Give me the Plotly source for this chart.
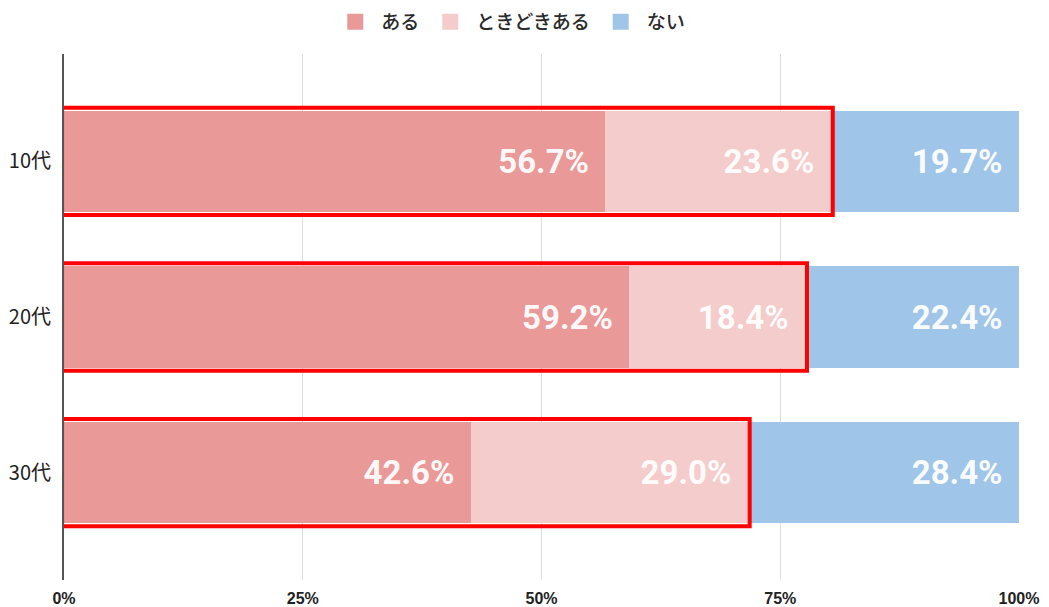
import plotly.graph_objects as go

categories = ["10代", "20代", "30代"]
series_names = ["ある", "ときどきある", "ない"]
aru = [56.7, 59.2, 42.6]
tokidoki = [23.6, 18.4, 29.0]
nai = [19.7, 22.4, 28.4]
x_ticks = [0, 25, 50, 75, 100]
x_tick_labels = ["0%", "25%", "50%", "75%", "100%"]

colors = ["#EA9999", "#F4CCCC", "#9FC5E8"]
series_values = [aru, tokidoki, nai]

fig = go.Figure()
for k, (name, vals, col) in enumerate(zip(series_names, series_values, colors)):
    fig.add_trace(go.Bar(
        y=categories, x=vals, name=name, orientation="h",
        marker=dict(color=col, line=dict(width=0),
                    cornerradius=3 if k == len(series_names) - 1 else 0),
        text=[f"{v:.1f}%\u2009\u2009" for v in vals],
        textposition="inside", insidetextanchor="end",
        textfont=dict(family="Roboto", size=33, color="rgba(255,255,255,0.95)", weight="bold"),
        hoverinfo="skip", showlegend=False,
    ))

# legend entries (square swatches)
for name, col in zip(series_names, colors):
    fig.add_trace(go.Scatter(
        x=[None], y=[None], mode="markers", name=name,
        marker=dict(symbol="square", size=16, color=col),
        showlegend=True, hoverinfo="skip",
    ))

# red highlight boxes around ある + ときどきある
for i, cat in enumerate(categories):
    s = aru[i] + tokidoki[i]
    fig.add_shape(type="rect", xref="x", yref="y",
                  x0=-0.2, x1=s + 0.2, y0=i - 0.345, y1=i + 0.345,
                  line=dict(color="#FF0000", width=4), fillcolor="rgba(0,0,0,0)",
                  layer="above")

# page body has an 8px margin, so the figure is offset by (8, 8)
fig.update_layout(
    width=1041, height=599,
    barmode="stack", bargap=0.35,
    margin=dict(l=56, r=30, t=46, b=27, autoexpand=False),
    plot_bgcolor="white", paper_bgcolor="white",
    font=dict(family="Noto Sans CJK JP", color="#222"),
    legend=dict(orientation="h", xref="container", yref="container",
                x=0.482, xanchor="center", y=0.977, yanchor="middle",
                font=dict(family="Noto Sans CJK JP", size=19, color="#2a2a2a", weight=500),
                traceorder="normal", itemwidth=42),
    xaxis=dict(range=[0, 100], tickvals=x_ticks, ticktext=x_tick_labels,
               showgrid=True, gridcolor="#DDDDDD", gridwidth=1, zeroline=False,
               tickfont=dict(family="Liberation Sans", size=16, color="#222", weight="bold"),
               ticks="", ticklabelstandoff=7, automargin=False, fixedrange=True),
    yaxis=dict(categoryorder="array", categoryarray=categories,
               range=[2.69, -0.69], showgrid=False, zeroline=False,
               showline=True, linecolor="#555555", linewidth=2,
               tickfont=dict(family="Noto Sans CJK JP", size=20, color="#222"),
               ticks="", ticklabelstandoff=7, automargin=False, fixedrange=True),
    showlegend=True,
)

fig.write_html("out.html")
